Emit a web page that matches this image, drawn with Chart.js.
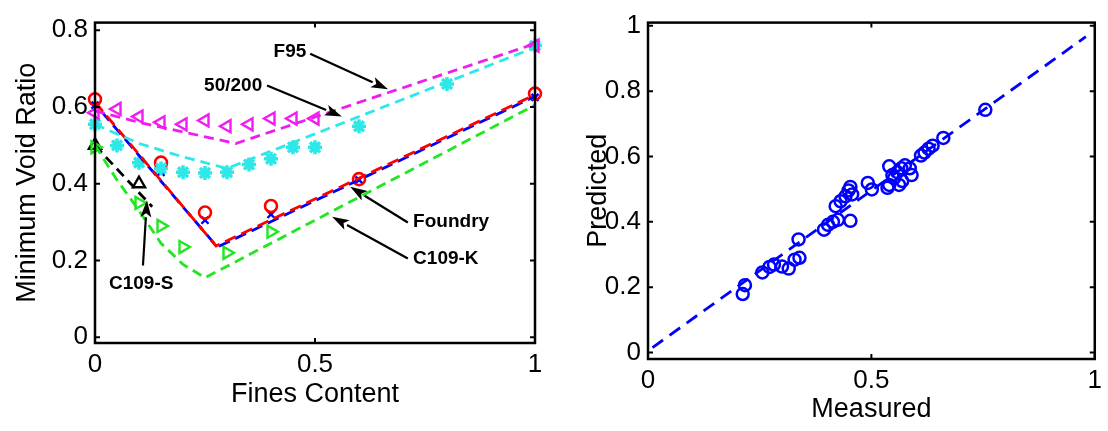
<!DOCTYPE html>
<html><head><meta charset="utf-8">
<script src="https://cdn.jsdelivr.net/npm/chart.js@4/dist/chart.umd.min.js"></script>
<style>
html,body{margin:0;padding:0;background:#fff;width:1108px;height:431px;overflow:hidden;}
canvas{position:absolute;top:0;}
#c1{left:0;} #c2{left:555px;}
</style></head>
<body>
<canvas id="c1" width="555" height="431"></canvas>
<canvas id="c2" width="553" height="431"></canvas>
<script>
// ---------- Left panel data ----------
const leftXTicks = [0, 0.5, 1];
const leftYTicks = [0, 0.2, 0.4, 0.6, 0.8];
const rightXTicks = [0, 0.5, 1];
const rightYTicks = [0, 0.2, 0.4, 0.6, 0.8, 1];

const f95X = [0, 0.05, 0.1, 0.15, 0.2, 0.25, 0.3, 0.35, 0.4, 0.45, 0.5, 1];
const f95Y = [0.585, 0.595, 0.575, 0.56, 0.555, 0.565, 0.55, 0.555, 0.57, 0.57, 0.57, 0.76];
const f95LineX = [0, 0.1, 0.2, 0.32, 1];
const f95LineY = [0.59, 0.56, 0.535, 0.505, 0.765];

const m50X = [0, 0.05, 0.1, 0.15, 0.2, 0.25, 0.3, 0.35, 0.4, 0.45, 0.5, 0.6, 0.8, 1];
const m50Y = [0.555, 0.5, 0.455, 0.44, 0.43, 0.428, 0.43, 0.45, 0.465, 0.495, 0.495, 0.55, 0.66, 0.76];
const m50LineX = [0, 0.1, 0.2, 0.3, 1];
const m50LineY = [0.555, 0.505, 0.47, 0.44, 0.755];

const foundryX = [0, 0.15, 0.25, 0.4, 0.6, 1];
const foundryY = [0.62, 0.455, 0.325, 0.342, 0.412, 0.635];
const foundryLineX = [0, 0.275, 1];
const foundryLineY = [0.613, 0.238, 0.632];

const blueX = [0, 0.15, 0.25, 0.4, 0.6, 1];
const blueY = [0.605, 0.43, 0.305, 0.32, 0.41, 0.625];
const blueLineX = [0, 0.278, 1];
const blueLineY = [0.608, 0.235, 0.628];

const c109kX = [0, 0.1, 0.15, 0.2, 0.3, 0.4];
const c109kY = [0.495, 0.35, 0.29, 0.235, 0.22, 0.275];
const c109kLineX = [0, 0.05, 0.1, 0.15, 0.2, 0.25, 1];
const c109kLineY = [0.5, 0.41, 0.33, 0.245, 0.19, 0.155, 0.605];

const c109sX = [0, 0.1];
const c109sY = [0.5, 0.4];
const c109sLineX = [0, 0.13];
const c109sLineY = [0.5, 0.34];

// ---------- Right panel data ----------
const measured = [0.212,0.217,0.256,0.272,0.282,0.3,0.315,0.328,0.339,0.337,0.394,0.403,0.414,0.425,0.453,0.42,0.431,0.442,0.449,0.453,0.457,0.492,0.501,0.536,0.540,0.551,0.558,0.567,0.575,0.569,0.562,0.586,0.59,0.547,0.54,0.611,0.619,0.628,0.637,0.661,0.755];
const predicted = [0.179,0.206,0.245,0.262,0.269,0.263,0.257,0.284,0.29,0.346,0.376,0.391,0.4,0.406,0.403,0.448,0.463,0.478,0.496,0.507,0.484,0.519,0.499,0.504,0.570,0.534,0.552,0.564,0.573,0.525,0.513,0.564,0.543,0.543,0.513,0.603,0.612,0.624,0.633,0.657,0.743];
const fitLineX = [0.01, 0.98];
const fitLineY = [0.015, 0.967];

const noteLabels = ['F95', '50/200', 'Foundry', 'C109-K', 'C109-S'];

// ---------- helpers ----------
const pts = (xs, ys) => xs.map((x, i) => ({x: x, y: ys[i]}));
const FONT = "'Liberation Sans', Arial, sans-serif";
Chart.defaults.color = '#000';
Chart.defaults.font.family = FONT;

const C_MAG = '#f01cf0', C_CYAN = '#2ee8e8', C_RED = '#ff0000', C_BLUE = '#0000ff', C_GREEN = '#22e622', C_BLACK = '#000000';

function lineDS(xs, ys, color, off, dash) {
  return {data: pts(xs, ys), showLine: true, borderColor: color, borderWidth: 2.8,
    borderDash: dash || [10, 6], borderDashOffset: off || 0, pointRadius: 0, fill: false, clip: false, tension: 0};
}
function markDS(xs, ys, color, style, rot, r, bw) {
  return {data: pts(xs, ys), showLine: false, borderColor: color, backgroundColor: 'rgba(0,0,0,0)',
    pointStyle: style, rotation: rot || 0, pointRadius: r || 6, pointBorderWidth: bw || 2.4, clip: false};
}

const framePlugin = {
  id: 'frame',
  afterDraw(chart) {
    const ctx = chart.ctx, a = chart.chartArea, xs = chart.scales.x, ys = chart.scales.y;
    const o = chart.options.plugins.frame;
    ctx.save();
    ctx.strokeStyle = '#000';
    ctx.lineWidth = 2.5;
    ctx.strokeRect(a.left, a.top, a.right - a.left, a.bottom - a.top);
    ctx.lineWidth = 2;
    const L = 5;
    ctx.beginPath();
    o.xTicks.forEach(v => {
      const p = xs.getPixelForValue(v);
      ctx.moveTo(p, a.bottom); ctx.lineTo(p, a.bottom - L);
      ctx.moveTo(p, a.top); ctx.lineTo(p, a.top + L);
    });
    o.yTicks.forEach(v => {
      const p = ys.getPixelForValue(v);
      ctx.moveTo(a.left, p); ctx.lineTo(a.left + L, p);
      ctx.moveTo(a.right, p); ctx.lineTo(a.right - L, p);
    });
    ctx.stroke();
    ctx.restore();
  }
};

const notesPlugin = {
  id: 'notes',
  afterDatasetsDraw(chart) {
    const o = chart.options.plugins.notes;
    if (!o || !o.items) return;
    const ctx = chart.ctx, xs = chart.scales.x, ys = chart.scales.y;
    ctx.save();
    ctx.font = 'bold 19px ' + FONT;
    ctx.fillStyle = '#000';
    ctx.strokeStyle = '#000';
    ctx.textBaseline = 'middle';
    o.items.forEach(n => {
      ctx.textAlign = n.align;
      ctx.fillText(n.text, xs.getPixelForValue(n.tx), ys.getPixelForValue(n.ty));
      const x0 = xs.getPixelForValue(n.a[0]), y0 = ys.getPixelForValue(n.a[1]);
      const x1 = xs.getPixelForValue(n.a[2]), y1 = ys.getPixelForValue(n.a[3]);
      const ang = Math.atan2(y1 - y0, x1 - x0);
      const hl = 17, hw = 5.5;
      const bx = x1 - hl * Math.cos(ang), by = y1 - hl * Math.sin(ang);
      ctx.lineWidth = 2.2;
      ctx.beginPath(); ctx.moveTo(x0, y0); ctx.lineTo(bx, by); ctx.stroke();
      ctx.beginPath();
      ctx.moveTo(x1, y1);
      ctx.lineTo(bx + hw * Math.sin(ang), by - hw * Math.cos(ang));
      ctx.lineTo(bx + 4 * Math.cos(ang), by + 4 * Math.sin(ang));
      ctx.lineTo(bx - hw * Math.sin(ang), by + hw * Math.cos(ang));
      ctx.closePath(); ctx.fill();
    });
    ctx.restore();
  }
};

function axes(xmin, xmax, ymin, ymax, xT, yT, xTitle, yTitle, yW, xH, yTitlePad, xTitlePad) {
  return {
    x: {type: 'linear', min: xmin, max: xmax,
      afterBuildTicks: s => { s.ticks = xT.map(v => ({value: v})); },
      afterFit: s => { s.height = xH; },
      grid: {display: false, drawTicks: false}, border: {display: false},
      ticks: {font: {size: 26}, padding: 6, color: '#000', maxRotation: 0, callback: v => String(v)},
      title: {display: true, text: xTitle, font: {size: 27}, color: '#000', padding: {top: 0, bottom: xTitlePad}}},
    y: {type: 'linear', min: ymin, max: ymax,
      afterBuildTicks: s => { s.ticks = yT.map(v => ({value: v})); },
      afterFit: s => { s.width = yW; },
      grid: {display: false, drawTicks: false}, border: {display: false},
      ticks: {font: {size: 26}, padding: 7, color: '#000', callback: v => String(v)},
      title: {display: true, text: yTitle, font: {size: 27}, color: '#000', padding: {top: yTitlePad, bottom: 0}}}
  };
}

new Chart(document.getElementById('c1'), {
  type: 'scatter',
  data: {datasets: [
    lineDS(f95LineX, f95LineY, C_MAG),
    lineDS(m50LineX, m50LineY, C_CYAN),
    lineDS(c109kLineX, c109kLineY, C_GREEN),
    lineDS(c109sLineX, c109sLineY, C_BLACK),
    lineDS(foundryLineX, foundryLineY, C_RED, 0, [12, 6]),
    lineDS(blueLineX, blueLineY, C_BLUE, 8, [12, 6]),
    markDS(f95X, f95Y, C_MAG, 'triangle', -90, 7),
    markDS(m50X, m50Y, C_CYAN, 'star', 0, 7, 3.5),
    markDS(c109kX, c109kY, C_GREEN, 'triangle', 90, 7),
    markDS(c109sX, c109sY, C_BLACK, 'triangle', 0, 7),
    markDS(foundryX, foundryY, C_RED, 'circle', 0, 6, 2.6),
    markDS(blueX, blueY, C_BLUE, 'crossRot', 0, 5)
  ]},
  options: {
    responsive: false, animation: false, devicePixelRatio: 1,
    layout: {padding: {top: 13, right: 20, bottom: 0, left: 0}},
    plugins: {legend: {display: false}, tooltip: {enabled: false},
      frame: {xTicks: leftXTicks, yTicks: leftYTicks},
      notes: {items: [
        {text: noteLabels[0], tx: 0.443, ty: 0.744, align: 'center', a: [0.489, 0.739, 0.666, 0.646]},
        {text: noteLabels[1], tx: 0.314, ty: 0.656, align: 'center', a: [0.391, 0.656, 0.561, 0.575]},
        {text: noteLabels[2], tx: 0.723, ty: 0.30, align: 'left', a: [0.711, 0.299, 0.58, 0.392]},
        {text: noteLabels[3], tx: 0.723, ty: 0.205, align: 'left', a: [0.711, 0.205, 0.539, 0.314]},
        {text: noteLabels[4], tx: 0.105, ty: 0.139, align: 'center', a: [0.109, 0.187, 0.118, 0.357]}
      ]}},
    scales: axes(0, 1, -0.015, 0.82, leftXTicks, leftYTicks, 'Fines Content', 'Minimum Void Ratio', 95, 88, 11, 20)
  },
  plugins: [framePlugin, notesPlugin]
});

new Chart(document.getElementById('c2'), {
  type: 'scatter',
  data: {datasets: [
    lineDS(fitLineX, fitLineY, C_BLUE, 0, [13, 8]),
    markDS(measured, predicted, C_BLUE, 'circle', 0, 6, 2.5)
  ]},
  options: {
    responsive: false, animation: false, devicePixelRatio: 1,
    layout: {padding: {top: 14, right: 3, bottom: 0, left: 0}},
    plugins: {legend: {display: false}, tooltip: {enabled: false},
      frame: {xTicks: rightXTicks, yTicks: rightYTicks}},
    scales: axes(0, 1, -0.02, 1.01, rightXTicks, rightYTicks, 'Measured', 'Predicted', 93, 72, 27, 5)
  },
  plugins: [framePlugin]
});
</script>
</body></html>
